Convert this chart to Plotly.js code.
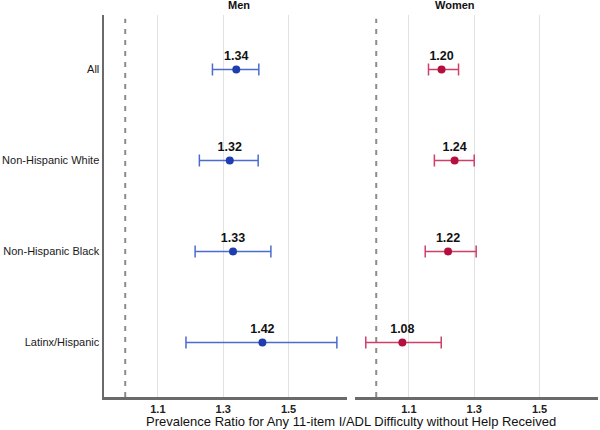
<!DOCTYPE html>
<html>
<head>
<meta charset="utf-8">
<script src="https://cdn.plot.ly/plotly-3.0.1.min.js"></script>
<style>html,body{margin:0;padding:0;background:#fff;}#chart{width:600px;height:430px;}</style>
</head>
<body>
<div id="chart"></div>
<script>
// Data
var groups = ["All", "Non-Hispanic White", "Non-Hispanic Black", "Latinx/Hispanic"];
var menPR = [1.34, 1.32, 1.33, 1.42];
var menLow = [1.267, 1.227, 1.214, 1.186];
var menHigh = [1.409, 1.407, 1.446, 1.648];
var womenPR = [1.20, 1.24, 1.22, 1.08];
var womenLow = [1.160, 1.178, 1.150, 0.968];
var womenHigh = [1.252, 1.300, 1.306, 1.199];
var xTicks = [1.1, 1.3, 1.5];
var panelTitles = ["Men", "Women"];
var axisTitle = "Prevalence Ratio for Any 11-item I/ADL Difficulty without Help Received";
var refValue = 1.0;

var FONT = "Liberation Sans, Arial, Helvetica, sans-serif";
var blueLine = "#4a6cd0", bluePt = "#1f3dae";
var redLine = "#cf3f6a", redPt = "#b3103f";

function mk(pr, lo, hi, xa, lineC, ptC) {
  return {
    type: "scatter", mode: "markers+text",
    x: pr, y: groups, xaxis: xa, yaxis: "y",
    text: pr.map(function (v) { return "<b>" + v.toFixed(2) + "</b>"; }),
    textposition: "top center",
    textfont: {family: FONT, size: 12.5, color: "#111"},
    marker: {color: ptC, size: 8},
    error_x: {
      type: "data", symmetric: false,
      array: hi.map(function (h, i) { return h - pr[i]; }),
      arrayminus: lo.map(function (l, i) { return pr[i] - l; }),
      color: lineC, thickness: 1.5, width: 6
    },
    cliponaxis: false,
    hoverinfo: "skip", showlegend: false
  };
}

var data = [
  mk(menPR, menLow, menHigh, "x", blueLine, bluePt),
  mk(womenPR, womenLow, womenHigh, "x2", redLine, redPt)
];

var xr = [0.935, 1.679];
var xCommon = {
  range: xr, tickvals: xTicks, ticktext: xTicks.map(function (v) { return "<b>" + v.toFixed(1) + "</b>"; }),
  showgrid: true, gridcolor: "#e2e2e2", gridwidth: 1.2,
  zeroline: false, showline: true, linecolor: "#6a6a6a", linewidth: 2.5,
  ticks: "", tickfont: {family: FONT, size: 11, color: "#222"},
  fixedrange: true
};

var W = 600, L = 104, R = 2, PW = W - L - R;
var layout = {
  width: 600, height: 430,
  margin: {l: L, r: R, t: 15, b: 33},
  paper_bgcolor: "#fff", plot_bgcolor: "#fff",
  font: {family: FONT, color: "#222"},
  xaxis: Object.assign({}, xCommon, {domain: [0, 243 / PW], anchor: "y"}),
  xaxis2: Object.assign({}, xCommon, {domain: [(355 - L) / PW, 1], anchor: "y"}),
  yaxis: {
    type: "category", range: [3.6, -0.6], anchor: "x",
    showgrid: false, zeroline: false, showline: true, linecolor: "#6a6a6a", linewidth: 2.5,
    ticks: "", tickfont: {family: FONT, size: 11, color: "#1a1a1a"}, fixedrange: true
  },
  shapes: [
    {type: "line", xref: "x", yref: "paper", x0: refValue, x1: refValue, y0: 0, y1: 0.99,
     line: {color: "#8c8c8c", width: 2, dash: "5px,6px"}, layer: "below"},
    {type: "line", xref: "x2", yref: "paper", x0: refValue, x1: refValue, y0: 0, y1: 0.99,
     line: {color: "#8c8c8c", width: 2, dash: "5px,6px"}, layer: "below"}
  ],
  annotations: [
    {text: "<b>" + panelTitles[0] + "</b>", xref: "paper", yref: "paper", x: 121.5 / PW, y: 1,
     yanchor: "middle", yshift: 10,
     showarrow: false, font: {family: FONT, size: 11, color: "#111"}},
    {text: "<b>" + panelTitles[1] + "</b>", xref: "paper", yref: "paper", x: (476.5 - L) / PW, y: 1,
     yanchor: "middle", yshift: 10,
     showarrow: false, font: {family: FONT, size: 11, color: "#111"}},
    {text: axisTitle, xref: "paper", yref: "paper", x: (351 - L) / PW, y: 0,
     yanchor: "middle", yshift: -24,
     showarrow: false, font: {family: FONT, size: 13, color: "#111"}}
  ]
};

Plotly.newPlot("chart", data, layout, {displayModeBar: false, staticPlot: true});
</script>
</body>
</html>
